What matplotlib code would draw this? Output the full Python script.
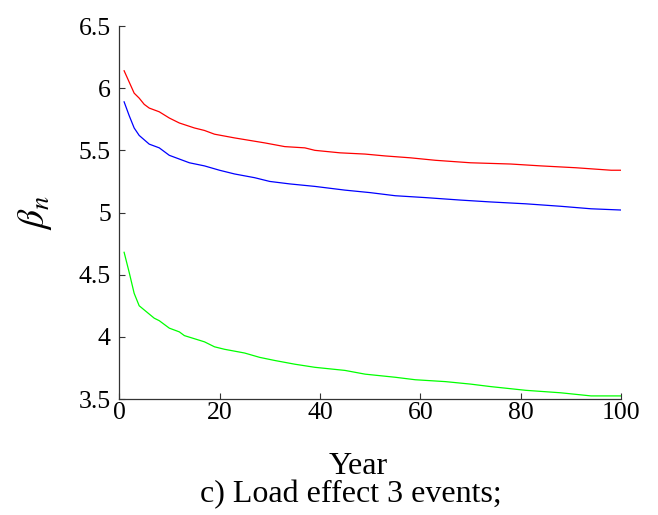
import matplotlib
matplotlib.use('Agg')
import matplotlib.pyplot as plt

# values
red_years = [1, 2, 3, 4, 5, 6, 8, 10, 12, 15, 17, 19, 23, 26, 29, 33, 37, 39, 44, 49, 53, 58, 63, 70, 78, 84, 91, 98, 100]
red_beta = [6.14, 6.05, 5.96, 5.92, 5.87, 5.84, 5.81, 5.76, 5.72, 5.68, 5.66, 5.63, 5.60, 5.58, 5.56, 5.53,
            5.52, 5.50, 5.48, 5.47, 5.455, 5.44, 5.42, 5.40, 5.39, 5.375, 5.36, 5.34, 5.34]

blue_years = [1, 2, 3, 4, 6, 8, 10, 14, 17, 20, 23, 27, 30, 34, 39, 45, 50, 55, 61, 68, 74, 81, 88, 94, 100]
blue_beta = [5.89, 5.78, 5.68, 5.62, 5.55, 5.52, 5.46, 5.40, 5.375, 5.34, 5.31, 5.28, 5.25, 5.23, 5.21,
             5.18, 5.16, 5.135, 5.12, 5.10, 5.085, 5.07, 5.05, 5.03, 5.02]

green_years = [1, 2, 3, 4, 7, 8, 10, 12, 13, 17, 19, 21, 25, 28, 31, 35, 39, 45, 49, 55, 59, 65, 70, 74, 81, 88, 94, 100]
green_beta = [4.68, 4.52, 4.35, 4.25, 4.15, 4.13, 4.07, 4.04, 4.01, 3.96, 3.92, 3.90, 3.87, 3.835, 3.81,
              3.78, 3.755, 3.73, 3.70, 3.675, 3.655, 3.64, 3.62, 3.60, 3.57, 3.55, 3.525, 3.525]

x_ticks = [0, 20, 40, 60, 80, 100]
y_ticks = [3.5, 4, 4.5, 5, 5.5, 6, 6.5]
y_labels = ['3.5', '4', '4.5', '5', '5.5', '6', '6.5']

plt.rcParams['font.family'] = ['Liberation Serif', 'DejaVu Serif']
plt.rcParams['mathtext.fontset'] = 'stix'

fig = plt.figure(figsize=(6.58, 5.15), dpi=100)
ax = fig.add_axes([0.181, 0.2252, 0.763, 0.7243])

ax.plot(red_years, red_beta, color='#ff0000', lw=0.9)
ax.plot(blue_years, blue_beta, color='#0000ff', lw=0.9)
ax.plot(green_years, green_beta, color='#00ff00', lw=0.9)

ax.set_xlim(0, 100)
ax.set_ylim(3.5, 6.5)
ax.set_xticks(x_ticks)
ax.set_yticks(y_ticks)
ax.set_yticklabels(y_labels)

for side in ['top', 'right']:
    ax.spines[side].set_visible(False)
for side in ['left', 'bottom']:
    ax.spines[side].set_color('#333333')
    ax.spines[side].set_linewidth(0.9)

ax.tick_params(axis='both', direction='in', length=4, width=0.8, color='#333333', labelsize=18.5)
ax.tick_params(axis='x', pad=2)
ax.tick_params(axis='y', pad=6)

ax.set_xlabel('Year', fontsize=23)
ax.xaxis.set_label_coords(0.476, -0.143)
ax.set_ylabel(r'$\beta_n$', fontsize=27)
ax.yaxis.set_label_coords(-0.13, 0.5)

fig.text(0.534, 0.039, 'c) Load effect 3 events;', ha='center', va='center', fontsize=23)

fig.savefig('out.png', dpi=100)
